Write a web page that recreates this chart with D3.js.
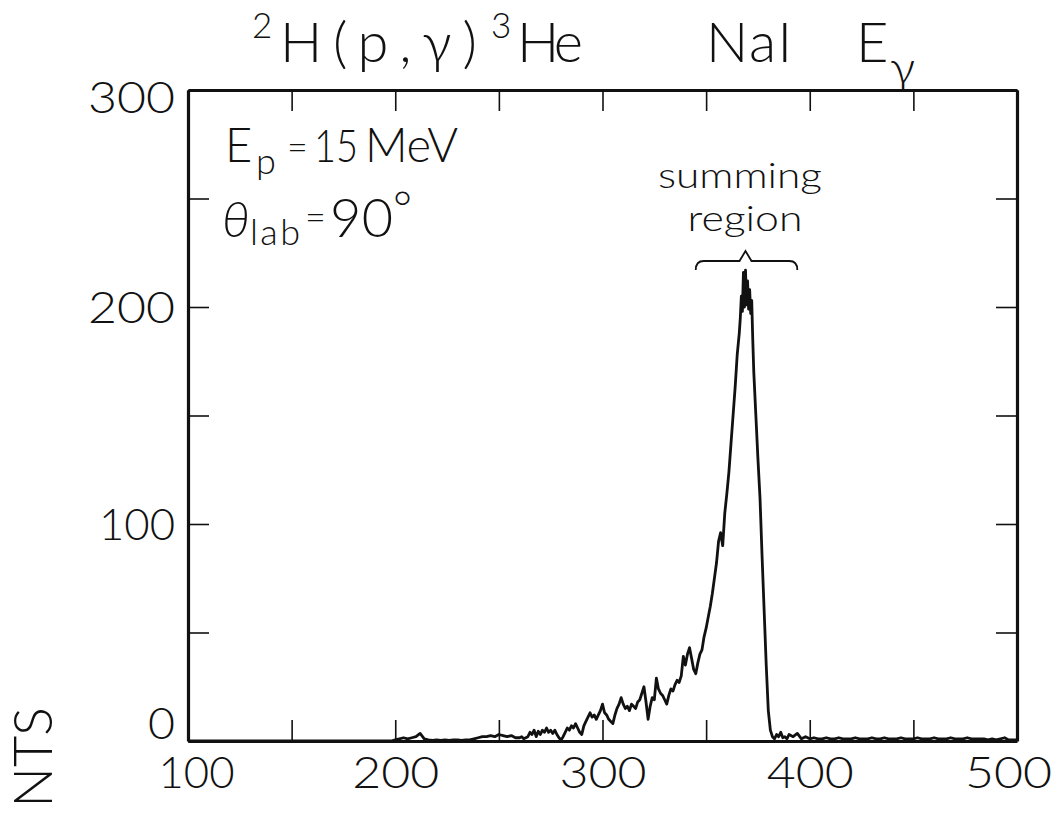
<!DOCTYPE html>
<html>
<head>
<meta charset="utf-8">
<script src="https://cdn.jsdelivr.net/npm/d3@7"></script>
<style>
  html, body { margin: 0; padding: 0; background: #fff; }
  svg { display: block; }
  text { font-family: Lato, "DejaVu Sans", sans-serif; font-weight: 300; fill: #111; }
</style>
</head>
<body>
<svg id="chart" width="1064" height="813"></svg>
<script>
// ---------- data ----------
// channel (E_gamma bin) positions, in segments
const channelsLow  = d3.range(100, 260, 2);     // 100..258, step 2
const channelsRise = d3.range(260, 366, 1);     // 260..365, step 1
const channelsTop  = d3.range(366, 373.01, 0.5);// 366..373, step 0.5
const channelsFall = d3.range(374, 391, 1);     // 374..390, step 1
const channelsHigh = d3.range(392, 501, 2);     // 392..500, step 2

const countsLow = [
  0,0,0,0,0,0,0,0,0,0, 0,0,0,0,0,0,0,0,0,0,
  0,0,0,0,0,0,0,0,0,0, 0,0,0,0,0,0,0,0,0,0,
  0,0,0,0,0,0,0,0,0,0,
  0.5,1,1.5,1,1.5,2,3.5,1,0.5,0.3,
  0.5,0.3,0.5,0.3,0.5,0.5,0.3,0.5,0.5,1,
  1.5,2,2,2.5,2,3,2.5,2,2.5,1.5
];
const countsRise = [
  1.5,2,1,1.5,2,4,3,5,2,4.5,          // 260-269
  3,5,4,6,4,5,3.5,5,3,1.5,            // 270-279
  0.5,2,4,6,5,7,6,8,6,4,              // 280-289
  3,7,9,11,13,11,12,10,12,14,         // 290-299
  17,13,12,10,9,8,12,15,17,20,        // 300-309
  17,15,16,14,17,16,15,18,19,22,      // 310-319
  25,18,10,16,20,19,29,24,22,21,      // 320-329
  19,17,21,24,23,26,28,27,30,39,      // 330-339
  35,40,43,38,33,31,36,40,42,48,      // 340-349
  52,57,62,68,75,82,92,96,90,105,     // 350-359
  114,124,137,150,163,178             // 360-365
];
const countsTop = [
  188,195,205,198,216,200,217,201,212,199,208,197,203,185,170  // 366-373
];
const countsFall = [
  150,130,112,85,60,35,14,5,2,1,3,2,4,1.5,2,1,3   // 374-390
];
const countsHigh = [
  2,3.5,1,2,1,1.5,1,1,1.5,1,          // 392-410
  1,1.5,1,1,1,1.5,1,1,1,1.5,          // 412-430
  1,1,1.5,1,1,1,1.5,1,1,1,            // 432-450
  1.5,1,1,1,1.5,1,1,1,1.5,1,          // 452-470
  1,1,1.5,1,1,1,1,0.5,1,0.5,          // 472-490
  1,1.5,0.5,0.5,0.5                   // 492-500
];

const xTicks = [100,150,200,250,300,350,400,450,500];
const xTickLabels = ["100","200","300","400","500"];
const yTicks = [0,50,100,150,200,250,300];
const yTickLabels = ["0","100","200","300"];

// ---------- setup ----------
const channels = channelsLow.concat(channelsRise, channelsTop, channelsFall, channelsHigh);
const counts = countsLow.concat(countsRise, countsTop, countsFall, countsHigh);
const spectrum = channels.map((c, i) => ({ e: c, n: counts[i] }));

const svg = d3.select("#chart");
const X0 = 188, X1 = 1017, Y0 = 741, Y1 = 90;
const x = d3.scaleLinear().domain([100, 500]).range([X0, X1]);
const y = d3.scaleLinear().domain([0, 300]).range([Y0, Y1]);

const tickLen = 21;
const labelFmt = (list) => (d) => list.includes(String(d)) ? String(d) : "";
const labelWidth = (s) => s === "0" ? 27 : (s.startsWith("1") ? 76 : 87);

function styleAxis(g) {
  g.select(".domain").attr("stroke", "#111").attr("stroke-width", 3.2);
  g.selectAll(".tick line").attr("stroke", "#111").attr("stroke-width", 1.6);
  g.selectAll(".tick text").attr("fill", "#111")
    .style("font-family", "Lato, 'DejaVu Sans', sans-serif")
    .style("font-weight", 300)
    .style("font-size", "44px")
    .each(function () {
      const s = d3.select(this).text();
      if (s) d3.select(this).attr("textLength", labelWidth(s)).attr("lengthAdjust", "spacingAndGlyphs");
    });
}

// bottom axis (with labels)
svg.append("g").attr("transform", `translate(0,${Y0})`)
  .call(d3.axisBottom(x).tickValues(xTicks).tickSize(-tickLen).tickPadding(15)
        .tickFormat(labelFmt(xTickLabels)).tickSizeOuter(0))
  .call(styleAxis)
  .call(g => g.selectAll(".tick text").attr("dy", "0.72em")
    .attr("dx", d => d === 100 ? 8 : (d === 500 ? -9 : 0)));

// top axis
svg.append("g").attr("transform", `translate(0,${Y1})`)
  .call(d3.axisTop(x).tickValues(xTicks).tickSize(-tickLen).tickFormat("").tickSizeOuter(0))
  .call(styleAxis);

// left axis (with labels)
svg.append("g").attr("transform", `translate(${X0},0)`)
  .call(d3.axisLeft(y).tickValues(yTicks).tickSize(-tickLen).tickPadding(13)
        .tickFormat(labelFmt(yTickLabels)).tickSizeOuter(0))
  .call(styleAxis)
  .call(g => g.selectAll(".tick text").attr("dy", d => d === 0 ? "-0.05em" : (d === 300 ? "0.5em" : "0.35em")));

// right axis
svg.append("g").attr("transform", `translate(${X1},0)`)
  .call(d3.axisRight(y).tickValues(yTicks).tickSize(-tickLen).tickFormat("").tickSizeOuter(0))
  .call(styleAxis);

// spectrum line
const line = d3.line().x(d => x(d.e)).y(d => y(d.n));
svg.append("path").datum(spectrum)
  .attr("d", line)
  .attr("fill", "none")
  .attr("stroke", "#111")
  .attr("stroke-width", 2.8)
  .attr("stroke-linejoin", "round");

// ---------- text ----------
function txt(s, px, py, size, opts = {}) {
  const t = svg.append("text").attr("x", px).attr("y", py)
    .style("font-size", size + "px").text(s);
  if (opts.anchor) t.attr("text-anchor", opts.anchor);
  if (opts.italic) t.style("font-style", "italic");
  if (opts.len) t.attr("textLength", opts.len).attr("lengthAdjust", opts.adj || "spacing");
  return t;
}

// title
txt("2", 252, 38, 35);
txt("H(p,\u03B3)", 280, 62, 56, { len: 197 });
txt("3", 491, 38, 35);
txt("He", 517, 62, 56, { len: 66 });
txt("NaI", 706, 62, 56, { len: 86 });
txt("E", 856, 62, 56);
txt("\u03B3", 890, 84, 48);

// annotations
txt("E", 225, 162, 47);
txt("p", 256, 174, 36);
txt("=", 287, 160, 36);
txt("15", 314, 162, 46, { len: 44, adj: "spacingAndGlyphs" });
txt("MeV", 365, 162, 47, { len: 93 });
txt("\u03B8", 222, 237, 50, { italic: true });
txt("lab", 250, 245, 36, { len: 50 });
txt("=", 305, 230, 36);
txt("90", 330, 237, 54, { len: 63 });
txt("\u00B0", 393, 224, 46);

txt("summing", 740, 188, 36, { anchor: "middle", len: 164, adj: "spacingAndGlyphs" });
txt("region", 745, 231, 36, { anchor: "middle", len: 115, adj: "spacingAndGlyphs" });

// brace over summing region
const braceL = x(345), braceR = x(394), braceM = x(369);
const by = 261;
svg.append("path")
  .attr("d", `M${braceL},${by + 9} Q${braceL},${by} ${braceL + 8},${by} L${braceM - 6},${by} L${braceM},${by - 10} L${braceM + 6},${by} L${braceR - 8},${by} Q${braceR},${by} ${braceR},${by + 9}`)
  .attr("fill", "none").attr("stroke", "#111").attr("stroke-width", 1.8);

// y-axis title (only its tail is visible inside the picture)
svg.append("text")
  .attr("transform", "translate(52,707) rotate(-90)")
  .attr("text-anchor", "end")
  .style("font-size", "54px")
  .text("NTS");
</script>
</body>
</html>
